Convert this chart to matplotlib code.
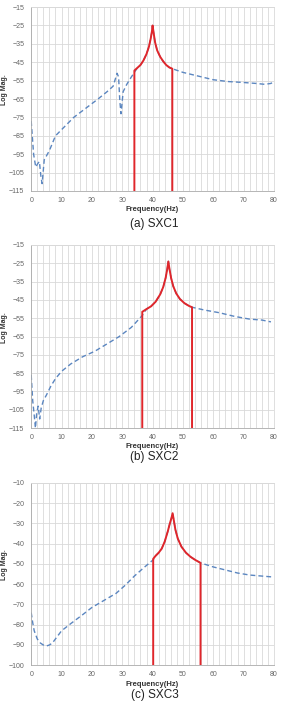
import numpy as np
from matplotlib import pyplot as plt

plt.close("all")
plt.rcParams['font.family'] = ['Liberation Sans', 'DejaVu Sans']

# (a) SXC1
f1_blue = [0, 0.8, 1.5, 2.2, 2.7, 3.2, 3.6, 4.3, 5, 6, 8, 11, 14, 18, 22, 25, 27, 28.3, 28.8, 29.2, 29.6, 30.3, 31.5, 33, 34, 35, 36, 37, 38, 38.8, 39.4, 39.8, 40.0, 40.3, 40.8, 41.5, 42.5, 43.5, 44.5, 45.5, 46.5, 47, 50, 55, 60, 65, 70, 74, 77, 79, 80]
m1_blue = [-77, -95, -102, -100, -99, -107, -111, -98, -96, -93, -85, -80, -75, -70, -65, -61, -58, -51, -53, -66, -73, -61, -57, -53, -50.5, -48, -46.5, -44, -40.5, -36.5, -32, -28, -25, -28.5, -34, -38.5, -42, -44.5, -46.5, -47.8, -48.5, -48.8, -50.5, -52.5, -54.5, -55.5, -56, -56.5, -57, -56.5, -55.5]
f1_red = [34, 34, 35, 36, 37, 38, 38.8, 39.4, 39.8, 40.0, 40.3, 40.8, 41.5, 42.5, 43.5, 44.5, 45.5, 46.5, 46.5]
m1_red = [-115, -49.5, -48, -46.5, -44, -40.5, -36.5, -32, -28, -25, -28.5, -34, -38.5, -42, -44.5, -46.5, -47.8, -48.5, -115]

# (b) SXC2
f2_blue = [0, 0.5, 1.0, 1.4, 1.8, 2.3, 2.8, 3.3, 4, 5, 6.5, 8, 10, 13, 17, 21, 25, 29, 33, 36.6, 38, 39.5, 41, 42.5, 43.5, 44.3, 44.8, 45.2, 45.6, 46.1, 46.8, 47.8, 49, 50.5, 52, 53, 57, 62, 67, 72, 76, 79]
m2_blue = [-86, -100, -108, -115, -107, -103, -110, -104, -100, -97, -92, -88, -84, -80, -76, -73, -69, -65, -60, -53.5, -50, -48.5, -46, -42, -38, -33, -28.5, -24, -28.5, -33, -37.5, -41.5, -44.5, -46.8, -48.3, -49, -50.5, -52, -54, -55.5, -56, -57]
f2_red = [36.6, 36.6, 38, 39.5, 41, 42.5, 43.5, 44.3, 44.8, 45.2, 45.6, 46.1, 46.8, 47.8, 49, 50.5, 52, 53, 53]
m2_red = [-115, -51.5, -50, -48.5, -46, -42, -38, -33, -28.5, -24, -28.5, -33, -37.5, -41.5, -44.5, -46.8, -48.3, -49, -115]

# (c) SXC3
f3_blue = [0, 0.5, 1, 2, 3, 4, 5, 6, 7, 8, 10, 13, 17, 20, 24, 28, 31, 34, 37, 40.2, 41, 42, 43, 44, 45, 45.7, 46.2, 46.6, 47, 47.5, 48.3, 49.5, 51, 52.5, 54, 55.8, 60, 64, 68, 72, 76, 80]
m3_blue = [-74, -79, -83, -87, -89, -90, -90.5, -90, -89, -87, -83, -79.5, -75, -71.5, -68, -64.5, -60.5, -56, -52, -48, -46, -44.5, -42.5, -39, -34, -30, -27.5, -25, -28.5, -33, -37.5, -41.5, -44.5, -46.5, -48, -49.5, -51.5, -53, -54.5, -55.5, -56, -56.5]
f3_red = [40.2, 40.2, 41, 42, 43, 44, 45, 45.7, 46.2, 46.6, 47, 47.5, 48.3, 49.5, 51, 52.5, 54, 55.8, 55.8]
m3_red = [-100, -47.5, -46, -44.5, -42.5, -39, -34, -30, -27.5, -25, -28.5, -33, -37.5, -41.5, -44.5, -46.5, -48, -49.5, -100]

panels = [
    (f1_blue, m1_blue, f1_red, m1_red, -115, -15, '(a) SXC1'),
    (f2_blue, m2_blue, f2_red, m2_red, -115, -15, '(b) SXC2'),
    (f3_blue, m3_blue, f3_red, m3_red, -100, -10, '(c) SXC3'),
]
boxes = [(0.111, 0.731, 0.864, 0.259),
         (0.111, 0.397, 0.864, 0.258),
         (0.111, 0.063, 0.864, 0.257)]
caption_y = [0.684, 0.357, 0.021]

fig = plt.figure(figsize=(2.81, 7.10), dpi=100)
for (fb, mb, fr, mr, ylo, yhi, cap), box, cy in zip(panels, boxes, caption_y):
    ax = fig.add_axes(box)
    ax.plot(fb, mb, color='#5B86C0', lw=1.0, ls=(0, (3.5, 2.2)), zorder=2)
    ax.plot(fr, mr, color='#E0262B', lw=1.4, zorder=3)
    ax.set_xlim(0, 80)
    ax.set_ylim(ylo, yhi)
    ax.set_xticks(np.arange(0, 81, 10))
    ax.set_xticks(np.arange(0, 81, 2), minor=True)
    ax.set_yticks(np.arange(ylo, yhi + 1, 10))
    ax.grid(True, which='both', axis='x', color='#D9D9D9', lw=0.6)
    ax.grid(True, which='major', axis='y', color='#D9D9D9', lw=0.6)
    ax.set_axisbelow(True)
    ax.tick_params(which='both', length=0, labelsize=5.0, labelcolor='#666666')
    ax.tick_params(axis='y', pad=5)
    ax.tick_params(axis='x', pad=4)
    for s in ax.spines.values():
        s.set_color('#D9D9D9')
        s.set_linewidth(0.6)
    ax.spines['left'].set_color('#AAAAAA')
    ax.spines['bottom'].set_color('#AAAAAA')
    ax.set_xlabel('Frequency(Hz)', fontsize=5.5, fontweight='bold', color='#333333', labelpad=2)
    ax.set_ylabel('Log Mag.', fontsize=5.0, fontweight='bold', color='#333333')
    ax.yaxis.set_label_coords(-0.095, 0.55)
    fig.text(0.55, cy, cap, ha='center', va='center', fontsize=8.5, color='#222222')

fig.savefig('out.png', dpi=100)
